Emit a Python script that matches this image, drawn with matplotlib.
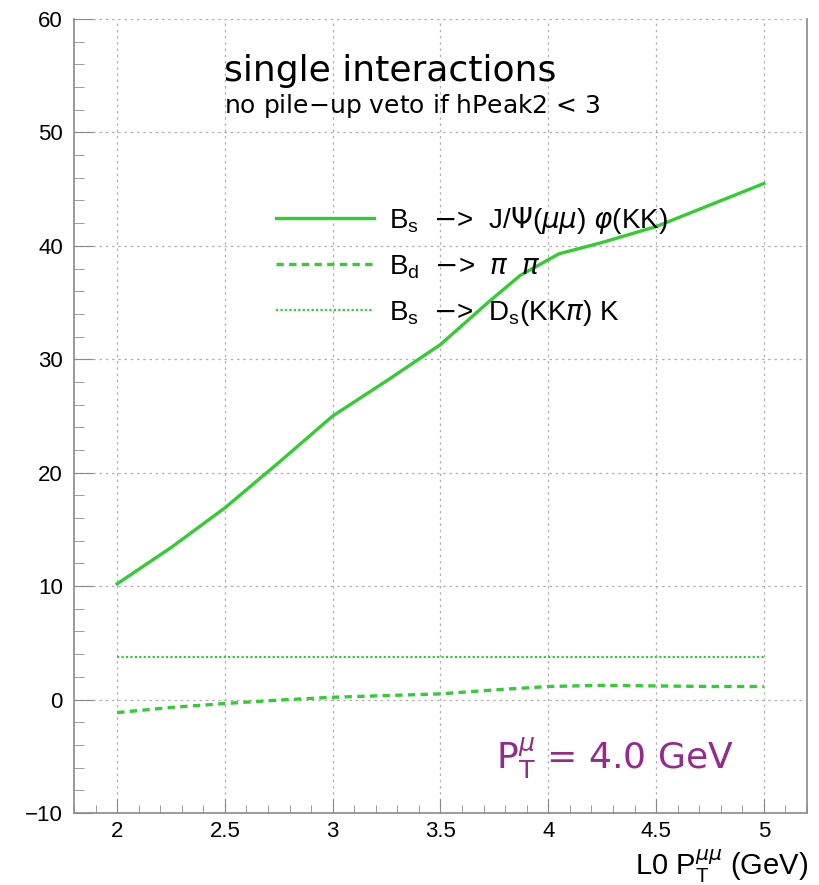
import matplotlib.pyplot as plt
from matplotlib.ticker import MultipleLocator

# L0 pT(mumu) cut values (GeV)
pt_cut = [2.0, 2.25, 2.5, 2.75, 3.0, 3.25, 3.5, 3.72, 3.87, 4.05, 4.25, 4.5, 4.75, 5.0]
# efficiency-like quantity for each channel
bs_jpsiphi = [10.2, 13.4, 16.9, 20.9, 25.0, 28.1, 31.3, 35.0, 37.4, 39.3, 40.3, 41.7, 43.6, 45.5]

pt_cut_pipi = [2.0, 2.25, 2.5, 2.75, 3.0, 3.25, 3.5, 3.75, 4.0, 4.25, 4.5, 4.75, 5.0]
bd_pipi = [-1.15, -0.7, -0.35, -0.05, 0.2, 0.35, 0.5, 0.85, 1.15, 1.25, 1.2, 1.15, 1.15]

pt_cut_dsk = [2.0, 5.0]
bs_dsk = [3.75, 3.75]

green = '#33cc33'
purple = '#962a8c'
axis_grey = '#8a8a8a'

plt.rcParams['font.family'] = ['Liberation Sans', 'DejaVu Sans']
plt.rcParams['mathtext.fontset'] = 'dejavusans'

fig = plt.figure(figsize=(8.19, 8.85), dpi=100)
ax = fig.add_axes([0.0904, 0.0814, 0.8949, 0.8971])

ax.plot(pt_cut, bs_jpsiphi, color=green, lw=2.4, ls='-',
        label=r'B$_\mathregular{s}$  $-$>  J/$\Psi$($\mu\mu$) $\varphi$(KK)')
ax.plot(pt_cut_pipi, bd_pipi, color=green, lw=2.4, ls=(0, (2.2, 1.6)),
        label=r'B$_\mathregular{d}$  $-$>  $\pi$  $\pi$')
ax.plot(pt_cut_dsk, bs_dsk, color=green, lw=1.6, ls=(0, (1, 1)),
        label=r'B$_\mathregular{s}$  $-$>  D$_\mathregular{s}$(KK$\pi$) K')

ax.set_xlim(1.8, 5.2)
ax.set_ylim(-10, 60)
ax.xaxis.set_major_locator(MultipleLocator(0.5))
ax.xaxis.set_minor_locator(MultipleLocator(0.1))
ax.yaxis.set_major_locator(MultipleLocator(10))
ax.yaxis.set_minor_locator(MultipleLocator(2))
ax.set_xticks([2, 2.5, 3, 3.5, 4, 4.5, 5])
ax.set_xticklabels(['2', '2.5', '3', '3.5', '4', '4.5', '5'])

ax.tick_params(which='both', direction='in', colors=axis_grey, labelcolor='black',
               labelsize=16, top=False, right=False)
ax.tick_params(axis='y', which='major', length=14, pad=8)
ax.tick_params(axis='y', which='minor', length=7)
ax.tick_params(axis='x', which='major', length=10, pad=6)
ax.tick_params(axis='x', which='minor', length=6)

ax.grid(True, which='major', color='#b0b0b0', lw=0.9, ls=(0, (2, 3)))
ax.spines['top'].set_visible(False)
for side in ['left', 'right', 'bottom']:
    ax.spines[side].set_color(axis_grey)
    ax.spines[side].set_linewidth(1.2)

ax.text(0.205, 0.935, 'single interactions', transform=ax.transAxes,
        fontsize=26, family=['DejaVu Sans'], va='center')
ax.text(0.205, 0.891, 'no pile$-$up veto if hPeak2 < 3', transform=ax.transAxes,
        fontsize=18, family=['DejaVu Sans'], va='center')

ax.text(0.576, 0.069, r'P$_\mathregular{T}^{\mu}$ = 4.0 GeV', transform=ax.transAxes,
        fontsize=26, color=purple, va='center', family=['DejaVu Sans'])

leg = ax.legend(loc='upper left', bbox_to_anchor=(0.276, 0.766), frameon=False,
                fontsize=20, handlelength=3.5, handletextpad=0.55,
                labelspacing=0.62, borderpad=0, borderaxespad=0)

fig.text(0.986, 0.0, r'L0 P$_\mathregular{T}^{\mu\mu}$ (GeV)', ha='right', va='bottom',
         fontsize=21)

fig.savefig('out.png', dpi=100)
